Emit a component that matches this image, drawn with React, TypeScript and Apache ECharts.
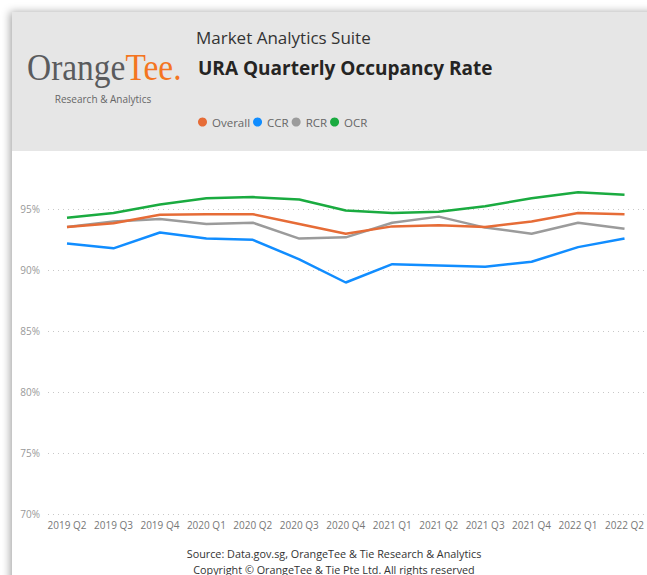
import React, { useEffect, useRef } from "react";
import * as echarts from "echarts";

const categories = [
  "2019 Q2", "2019 Q3", "2019 Q4", "2020 Q1", "2020 Q2", "2020 Q3", "2020 Q4",
  "2021 Q1", "2021 Q2", "2021 Q3", "2021 Q4", "2022 Q1", "2022 Q2",
];
const overall = [93.55, 93.85, 94.55, 94.6, 94.6, 93.8, 93.0, 93.6, 93.7, 93.55, 94.0, 94.7, 94.6];
const ccr = [92.2, 91.8, 93.1, 92.6, 92.5, 90.9, 89.0, 90.5, 90.4, 90.3, 90.7, 91.9, 92.6];
const rcr = [93.55, 94.0, 94.2, 93.8, 93.9, 92.6, 92.7, 93.9, 94.4, 93.5, 93.0, 93.9, 93.4];
const ocr = [94.3, 94.7, 95.4, 95.9, 96.0, 95.8, 94.9, 94.7, 94.8, 95.25, 95.9, 96.4, 96.2];

const seriesNames = ["Overall", "CCR", "RCR", "OCR"];
const seriesColors = ["#E66C37", "#118DFF", "#9B9B9B", "#1AAB40"];

const FONT = "'Open Sans', 'Noto Sans', sans-serif";

export default function App() {
  const ref = useRef<HTMLDivElement>(null);
  useEffect(() => {
    if (!ref.current) return;
    const chart = echarts.init(ref.current, null, { renderer: "svg" });
    const values = [overall, ccr, rcr, ocr];
    chart.setOption({
      animation: false,
      backgroundColor: "#ffffff",
      textStyle: { fontFamily: FONT },
      graphic: [
        {
          type: "rect",
          z: -10,
          shape: { x: 12, y: 12, width: 700, height: 620 },
          style: { fill: "#ffffff", shadowBlur: 8, shadowOffsetX: -2, shadowColor: "rgba(0,0,0,0.35)" },
        },
        {
          type: "rect",
          z: -9,
          shape: { x: 12, y: 12, width: 700, height: 139 },
          style: { fill: "#e6e6e6" },
        },
        {
          type: "text",
          x: 27,
          y: 67,
          scaleX: 0.88,
          style: {
            text: "{a|Orange}{b|Tee.}",
            verticalAlign: "middle",
            rich: {
              a: { fontFamily: "'Liberation Serif', serif", fontSize: 38, fill: "#5a5b5d" },
              b: { fontFamily: "'Liberation Serif', serif", fontSize: 38, fill: "#F47521" },
            },
          },
        },
        {
          type: "text",
          x: 103,
          y: 99,
          style: {
            text: "Research & Analytics",
            fontFamily: FONT,
            fontSize: 10,
            fill: "#666666",
            align: "center",
            verticalAlign: "middle",
          },
        },
        {
          type: "text",
          x: 196,
          y: 37,
          style: {
            text: "Market Analytics Suite",
            fontFamily: FONT,
            fontSize: 17,
            fill: "#333333",
            verticalAlign: "middle",
          },
        },
        {
          type: "text",
          x: 198,
          y: 68,
          style: {
            text: "URA Quarterly Occupancy Rate",
            fontFamily: FONT,
            fontSize: 19,
            fontWeight: "bold",
            fill: "#252423",
            verticalAlign: "middle",
          },
        },
        {
          type: "text",
          x: 334,
          y: 553,
          style: {
            text: "Source: Data.gov.sg, OrangeTee & Tie Research & Analytics",
            fontFamily: FONT,
            fontSize: 10.8,
            fill: "#333333",
            align: "center",
            verticalAlign: "middle",
          },
        },
        {
          type: "text",
          x: 334,
          y: 569,
          style: {
            text: "Copyright © OrangeTee & Tie Pte Ltd. All rights reserved",
            fontFamily: FONT,
            fontSize: 10.8,
            fill: "#333333",
            align: "center",
            verticalAlign: "middle",
          },
        },
      ],
      legend: {
        data: seriesNames,
        left: 198,
        top: 116,
        padding: 0,
        icon: "circle",
        itemWidth: 9,
        itemHeight: 9,
        itemGap: 3,
        textStyle: { fontFamily: FONT, fontSize: 11.5, color: "#666666" },
      },
      grid: [
        { left: 48, right: 0, top: 172.7, bottom: 60.7 },
        { left: 67, right: 12, top: 172.7, bottom: 60.7 },
      ],
      xAxis: [
        { type: "value", gridIndex: 0, show: false, min: 0, max: 1 },
        {
          type: "category",
          gridIndex: 1,
          data: categories,
          boundaryGap: false,
          axisLine: { show: false },
          axisTick: { show: false },
          axisLabel: { color: "#777777", fontSize: 10, margin: 6, interval: 0, fontFamily: FONT },
        },
      ],
      yAxis: [
        {
          type: "value",
          gridIndex: 0,
          min: 70,
          max: 98,
          interval: 5,
          axisLine: { show: false },
          axisTick: { show: false },
          axisLabel: {
            color: "#999999",
            fontSize: 10,
            margin: 8,
            showMaxLabel: false,
            fontFamily: FONT,
            formatter: (v: number) => (v % 5 === 0 ? v + "%" : ""),
          },
          splitLine: {
            showMaxLine: false,
            lineStyle: { type: [1, 4], color: "#c8c8c8", width: 1 },
          },
        },
        { type: "value", gridIndex: 1, min: 70, max: 98, show: false, splitLine: { show: false } },
      ],
      series: seriesNames.map((name, i) => ({
        name,
        type: "line",
        xAxisIndex: 1,
        yAxisIndex: 1,
        data: values[i],
        showSymbol: false,
        symbol: "circle",
        color: seriesColors[i],
        lineStyle: { width: 2.5, color: seriesColors[i] },
        z: 10 - i,
      })),
    });
    return () => chart.dispose();
  }, []);
  return (
    <div
      ref={ref}
      style={{ position: "absolute", left: 0, top: 0, width: 647, height: 575 }}
    />
  );
}
